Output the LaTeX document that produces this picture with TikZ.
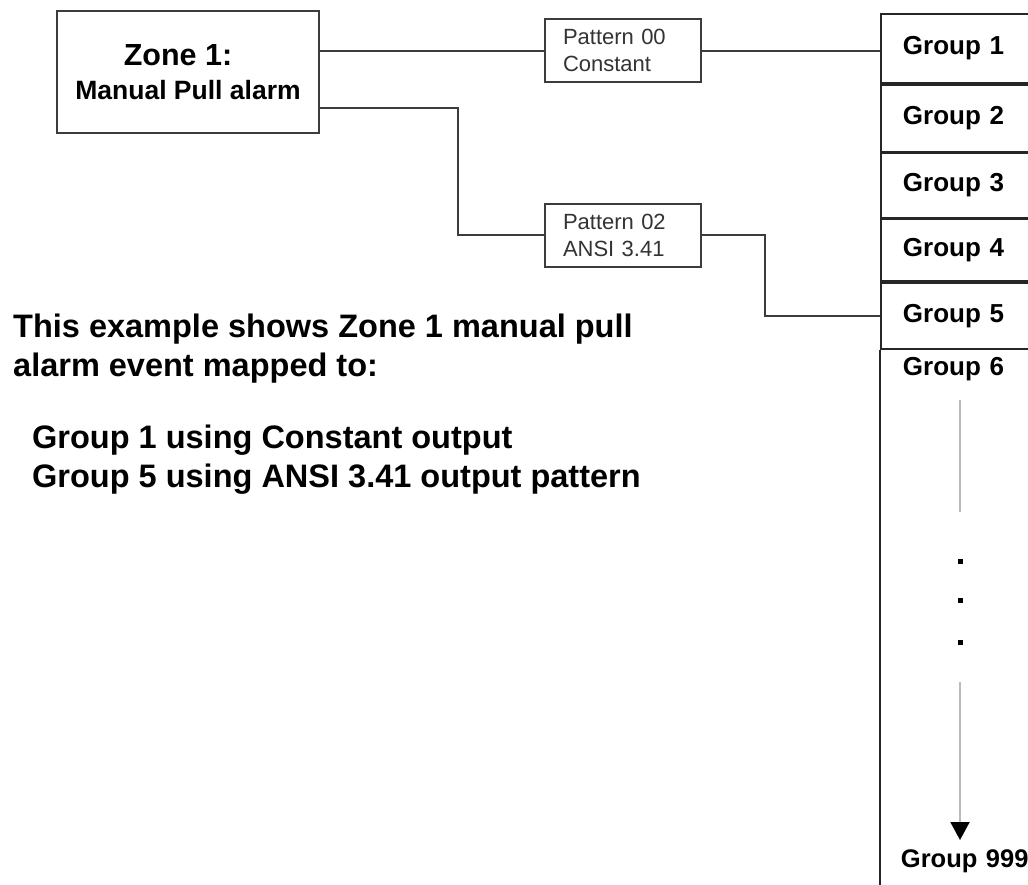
\documentclass[tikz,border=0pt]{standalone}
\usepackage{fontspec}
\setmainfont{Liberation Sans}
\usetikzlibrary{arrows.meta}
\definecolor{linegray}{HTML}{3C3C3C}
\definecolor{fadegray}{HTML}{BBBBBB}

\begin{document}
\begin{tikzpicture}[
    x=1pt, y=-1pt,
    zonebox/.style={draw=linegray, line width=2pt, minimum width=262pt,
      minimum height=122pt, align=center,
      font=\bfseries\fontsize{30.5}{34}\selectfont},
    patbox/.style={draw=linegray, line width=2pt, minimum width=156pt,
      minimum height=63pt, text width=120pt, inner xsep=18pt, align=left,
      text=black!80, font=\fontsize{22}{27}\selectfont},
    grp/.style={draw=black!85, line width=1.8pt, anchor=north west,
      text width=126pt, inner xsep=22pt, align=left,
      font=\fontsize{26}{30}\selectfont\bfseries},
    wire/.style={draw=linegray, line width=2pt},
    note/.style={anchor=north west, inner sep=0pt, align=left,
      font=\fontsize{32.5}{38.5}\selectfont\bfseries},
  ]
  \clip (0,0) rectangle (1028,884);

  % Zone
  \node[zonebox] (zone) at (188,72) {Zone 1:\hspace*{20pt}\\
    \fontsize{26.5}{34}\selectfont Manual Pull alarm};

  % Patterns
  \node[patbox] (p00) at (623,50.5) {Pattern 00\\Constant};
  \node[patbox] (p02) at (623,235) {Pattern 02\\ANSI 3.41};

  % Groups
  \node[grp, minimum height=69pt] (g1) at (880,13) {Group 1};
  \node[grp, minimum height=67pt] (g2) at (g1.south west) {Group 2};
  \node[grp, minimum height=64pt] (g3) at (g2.south west) {Group 3};
  \node[grp, minimum height=62pt] (g4) at (g3.south west) {Group 4};
  \node[grp, minimum height=66pt] (g5) at (g4.south west) {Group 5};
  \node[grp, draw=none, inner ysep=6pt] (g6) at (g5.south west) {Group 6};
  \node[grp, draw=none, anchor=base west, text width=150pt,
    font=\fontsize{25.5}{30}\selectfont\bfseries] (g999) at (878,867) {Group 999};
  \draw[draw=black!85, line width=1.8pt] (g5.south west) -- ++(0,560);

  % Wires
  \draw[wire] (zone.east |- p00.west) -- (p00.west);
  \draw[wire] (p00.east) -- (p00.east -| g1.west);
  \draw[wire] ([yshift=-36pt]zone.east) -- ++(138,0) |- (p02.west);
  \draw[wire] (p02.east) -- ++(63,0) |- (g5.west);

  % Run down to the last group
  \coordinate (run1) at (960,400);
  \coordinate (run2) at (960,512);
  \coordinate (run3) at (960,682);
  \coordinate (run4) at (960,840);
  \draw[fadegray, line width=2pt] (run1) -- (run2);
  \foreach \y in {558.5,597.5,639.5}
    \fill (957.5,\y) rectangle ++(5,5);
  \draw[fadegray, line width=2pt, -{Triangle[length=18pt,width=19pt,black]}] (run3) -- (run4);

  % Note
  \node[note] (note) at (13,314) {This example shows Zone 1 manual pull\\
    alarm event mapped to:\\[34pt]
    \hspace*{19pt}Group 1 using Constant output\\
    \hspace*{19pt}Group 5 using ANSI 3.41 output pattern};
\end{tikzpicture}
\end{document}
